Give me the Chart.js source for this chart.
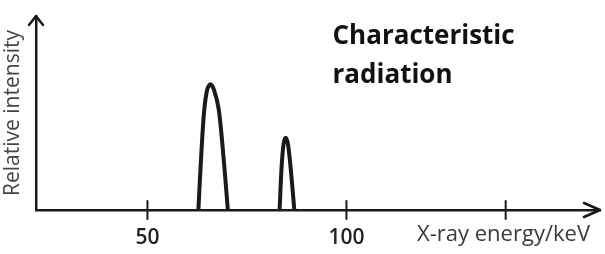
<!DOCTYPE html>
<html>
<head>
<meta charset="utf-8">
<script src="https://cdn.jsdelivr.net/npm/chart.js@4/dist/chart.umd.min.js"></script>
<style>
  html, body { margin: 0; padding: 0; background: #fff; }
  #wrap { width: 605px; height: 254px; position: relative; }
</style>
</head>
<body>
<div id="wrap"><canvas id="chart"></canvas></div>
<script>
// peak readings (keV, relative intensity 0-100)
const peak1Energy = [62.8, 63.4, 64.2, 65.0, 65.8, 66.7, 67.9, 69.1, 70.2];
const peak1Intensity = [0, 24, 50, 62, 64.8, 62, 52, 27.5, 0];
const peak2Energy = [83.2, 83.7, 84.2, 84.7, 85.3, 86.1, 86.9];
const peak2Intensity = [0, 22, 34, 37.3, 34, 19, 0];

const tickValues = [50, 100, 140];
const tickLabels = ['50', '100', ''];

const xMin = 22, xMax = 163.7;
const yMin = 0, yMax = 100;

const FONT = '"Open Sans", Lato, sans-serif';
const INK = '#1a1a1a';

function toPoints(xs, ys) {
    return xs.map((x, i) => ({ x: x, y: ys[i] }));
}

// arrows, tick marks and free text labels
const decor = {
    id: 'decor',
    afterDraw(chart) {
        const ctx = chart.ctx;
        const area = chart.chartArea;
        const xs = chart.scales.x;
        ctx.save();
        ctx.strokeStyle = INK;
        ctx.lineWidth = 2.5;
        ctx.lineCap = 'round';
        ctx.lineJoin = 'round';

        // y arrow
        ctx.beginPath();
        ctx.moveTo(area.left - 7, area.top + 9);
        ctx.lineTo(area.left, area.top);
        ctx.lineTo(area.left + 7, area.top + 9);
        ctx.stroke();

        // x arrow
        ctx.beginPath();
        ctx.moveTo(area.right - 16, area.bottom - 7);
        ctx.lineTo(area.right, area.bottom);
        ctx.lineTo(area.right - 16, area.bottom + 7);
        ctx.stroke();

        // tick marks
        ctx.lineWidth = 2;
        tickValues.forEach(v => {
            const px = xs.getPixelForValue(v);
            ctx.beginPath();
            ctx.moveTo(px, area.bottom - 9);
            ctx.lineTo(px, area.bottom + 9);
            ctx.stroke();
        });

        // axis label on tick line
        ctx.fillStyle = '#3a3a3a';
        ctx.font = '22px ' + FONT;
        ctx.textAlign = 'right';
        ctx.textBaseline = 'middle';
        ctx.fillText('X-ray energy/keV', area.right - 10, area.bottom + 25);

        // annotation
        ctx.fillStyle = '#111';
        ctx.font = 'bold 26px ' + FONT;
        ctx.textAlign = 'left';
        ctx.textBaseline = 'alphabetic';
        ctx.fillText('Characteristic', xs.getPixelForValue(96.5), 44);
        ctx.fillText('radiation', xs.getPixelForValue(96.5), 83);
        ctx.restore();
    }
};

const lineStyle = {
    borderColor: INK,
    borderWidth: 4,
    pointRadius: 0,
    fill: false,
    tension: 0.3,
    borderCapStyle: 'round',
    borderJoinStyle: 'round'
};

new Chart(document.getElementById('chart'), {
    type: 'line',
    data: {
        datasets: [
            Object.assign({ label: 'Peak 1', data: toPoints(peak1Energy, peak1Intensity) }, lineStyle),
            Object.assign({ label: 'Peak 2', data: toPoints(peak2Energy, peak2Intensity) }, lineStyle)
        ]
    },
    options: {
        responsive: true,
        maintainAspectRatio: false,
        animation: false,
        layout: { padding: { top: 16, right: 5, bottom: 0, left: 0 } },
        plugins: { legend: { display: false }, tooltip: { enabled: false } },
        scales: {
            x: {
                type: 'linear',
                min: xMin,
                max: xMax,
                afterBuildTicks: scale => { scale.ticks = tickValues.map(v => ({ value: v })); },
                afterFit: scale => { scale.height = 44; },
                grid: { display: false },
                border: { display: true, color: INK, width: 2.5 },
                ticks: {
                    autoSkip: false,
                    maxRotation: 0,
                    padding: 7,
                    color: '#222',
                    font: { family: FONT, size: 21, weight: '600' },
                    callback: (v, i) => tickLabels[i]
                }
            },
            y: {
                min: yMin,
                max: yMax,
                afterFit: scale => { scale.width = 36; },
                grid: { display: false },
                border: { display: true, color: INK, width: 2.5 },
                ticks: { display: false },
                title: {
                    display: true,
                    text: 'Relative intensity',
                    color: '#444',
                    padding: 0,
                    font: { family: FONT, size: 21 }
                }
            }
        }
    },
    plugins: [decor]
});
</script>
</body>
</html>
